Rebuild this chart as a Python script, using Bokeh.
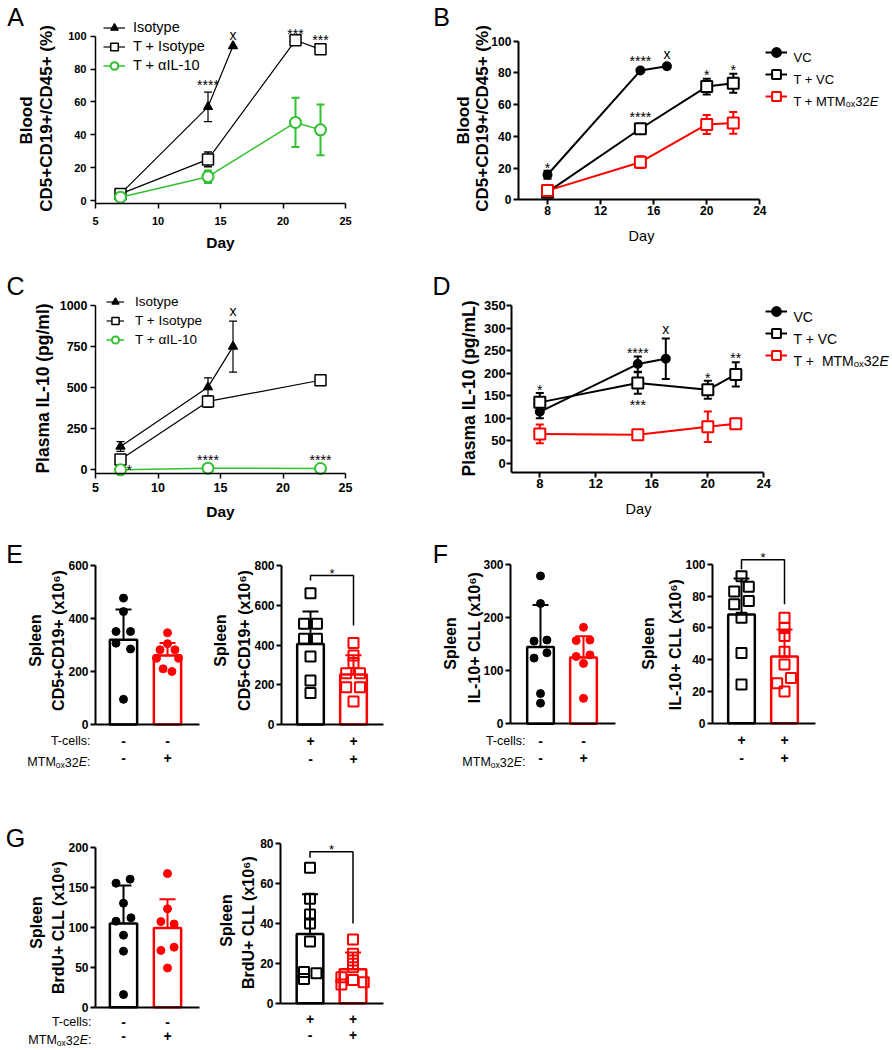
from bokeh.plotting import figure
from bokeh.models import (ColumnDataSource, Whisker, TeeHead, Label, LabelSet,
                          Legend, LegendItem, Range1d, FixedTicker)
from bokeh.layouts import row, column
from bokeh.embed import file_html
from bokeh.resources import INLINE
from bokeh.core.properties import value

FONT = "Liberation Sans"
BLACK = "#000000"
RED = "#ff0000"
GREEN = "#2fc12f"

# ---------------- Panel A : Blood CD5+CD19+/CD45+ (%) ----------------
a_iso_day = [7, 14, 16]
a_iso_mean = [4, 57, 94]
a_iso_err = [1.5, 9, 0]
a_tiso_day = [7, 14, 21, 23]
a_tiso_mean = [4, 25, 97.5, 92]
a_tiso_err = [1, 4.5, 0, 0]
a_ail_day = [7, 14, 21, 23]
a_ail_mean = [2, 14.5, 47.5, 43]
a_ail_err = [0, 3.8, 15, 15.5]
a_sig_day = [14, 16, 21, 23]
a_sig_y = [73, 101, 104, 100]
a_sig_text = ["****", "x", "***", "***"]
a_xticks = [5, 10, 15, 20, 25]
a_yticks = [0, 20, 40, 60, 80, 100]

# ---------------- Panel B ----------------
b_vc_day = [8, 15, 17]
b_vc_mean = [15.8, 81.5, 84.2]
b_vc_err = [2.5, 0, 0]
b_tvc_day = [8, 15, 20, 22]
b_tvc_mean = [4.8, 44.8, 71.4, 73.5]
b_tvc_err = [1, 1.6, 5, 6]
b_mtm_day = [8, 15, 20, 22]
b_mtm_mean = [5.8, 23.7, 47.5, 48.5]
b_mtm_err = [1, 3.7, 6, 6.8]
b_sig_day = [8, 15, 17, 15, 20, 22]
b_sig_y = [22.5, 90, 92, 54.5, 81, 84.5]
b_sig_text = ["*", "****", "x", "****", "*", "*"]
b_xticks = [8, 12, 16, 20, 24]
b_yticks = [0, 20, 40, 60, 80, 100]

# ---------------- Panel C : Plasma IL-10 ----------------
c_iso_day = [7, 14, 16]
c_iso_mean = [142, 503, 750]
c_iso_err = [30, 57, 155]
c_tiso_day = [7, 14, 23]
c_tiso_mean = [63, 416, 545]
c_tiso_err = [12, 35, 0]
c_ail_day = [7, 14, 23]
c_ail_mean = [0, 10, 8]
c_ail_err = [0, 0, 0]
c_sig_day = [16, 7.7, 14, 23]
c_sig_y = [965, 26, 81, 81]
c_sig_text = ["x", "*", "****", "****"]
c_xticks = [5, 10, 15, 20, 25]
c_yticks = [0, 250, 500, 750, 1000]

# ---------------- Panel D ----------------
d_vc_day = [8, 15, 17]
d_vc_mean = [114, 220, 232]
d_vc_err = [14, 17, 45]
d_tvc_day = [8, 15, 20, 22]
d_tvc_mean = [135, 178, 163, 197]
d_tvc_err = [21, 24, 20, 27]
d_mtm_day = [8, 15, 20, 22]
d_mtm_mean = [65, 63, 81, 87.5]
d_mtm_err = [21, 4, 34, 5]
d_sig_day = [8, 15, 15, 17, 20, 22]
d_sig_y = [172, 254, 137, 298, 198, 243]
d_sig_text = ["*", "****", "***", "x", "*", "**"]
d_xticks = [8, 12, 16, 20, 24]
d_yticks = [0, 50, 100, 150, 200, 250, 300, 350]

# ---------------- Bar panels ----------------
tcells_no = ["-", "-"]
tcells_yes = ["+", "+"]
mtm_flags = ["-", "+"]

e1_mean = [320, 260]
e1_sd = [114, 48]
e1_ctrl = [477, 426, 351, 351, 307, 285, 95]
e1_ctrl_dx = [0, 0, -0.17, 0.16, -0.17, 0.16, 0]
e1_trt = [346, 305, 282, 282, 250, 250, 210, 200]
e1_trt_dx = [0, 0, -0.17, 0.17, -0.25, 0.25, -0.1, 0.1]
e1_yticks = [0, 200, 400, 600]

e2_mean = [405, 252]
e2_sd = [163, 97]
e2_ctrl = [661, 507, 507, 431, 431, 342, 222, 158]
e2_ctrl_dx = [0, -0.15, 0.15, -0.15, 0.15, 0, 0, 0]
e2_trt = [410, 347, 309, 258, 258, 188, 188, 116]
e2_trt_dx = [0, 0, 0, -0.17, 0.15, -0.17, 0.15, 0]
e2_bracket = [725, 750, 750, 498]
e2_star = 778
e2_yticks = [0, 200, 400, 600, 800]

f1_mean = [145, 125]
f1_sd = [79, 40]
f1_ctrl = [279, 227, 158, 156, 134, 124, 57, 39]
f1_ctrl_dx = [0, 0, 0.15, -0.15, 0.15, -0.15, 0, 0]
f1_trt = [182, 157, 158, 130, 127, 114, 48]
f1_trt_dx = [0, -0.17, 0.15, 0.15, -0.17, 0, 0]
f1_yticks = [0, 100, 200, 300]

f2_mean = [68.5, 42]
f2_sd = [22.7, 17]
f2_ctrl = [92.6, 86, 83, 77, 75, 66.4, 44.3, 24.4]
f2_ctrl_dx = [0, 0.17, -0.17, 0.17, -0.17, 0, 0, 0]
f2_trt = [66.4, 60, 55, 45, 37, 28.5, 25.2, 20]
f2_trt_dx = [0, 0, 0, 0, 0, 0.15, -0.17, 0]
f2_bracket = [97, 103, 103, 75]
f2_star = 107
f2_yticks = [0, 20, 40, 60, 80, 100]

g1_mean = [104.5, 99]
g1_sd = [47.5, 36]
g1_ctrl = [155, 160, 130, 107.5, 111.7, 90, 70, 15.8]
g1_ctrl_dx = [-0.17, 0.15, 0, -0.17, 0.17, 0, 0, 0]
g1_trt = [167, 123, 107, 104, 71, 75, 49]
g1_trt_dx = [0, 0, -0.15, 0.15, -0.15, 0.15, 0]
g1_yticks = [0, 50, 100, 150, 200]

g2_mean = [34.7, 17]
g2_sd = [20, 8.5]
g2_ctrl = [68, 52.4, 44.5, 40, 31, 15.6, 12.2, 15]
g2_ctrl_dx = [0, 0, 0, 0, 0, -0.14, -0.14, 0.15]
g2_trt = [32, 24.8, 21.4, 18, 13, 9.4, 11.7, 10.5]
g2_trt_dx = [0, 0, 0, 0, -0.27, -0.27, 0, 0.25]
g2_bracket = [73, 76, 76, 40]
g2_star = 79
g2_yticks = [0, 20, 40, 60, 80]

# ---------------- helpers ----------------
AW = {" ": 278, "+": 584, "-": 333, ":": 278, "M": 833, "T": 611, "o": 556,
      "x": 500, "E": 667, "V": 667, "C": 722}


def tw(s, size):
    return sum(AW.get(c, 556) for c in s) * size / 1000.0


def new_panel(cell, xmap, ymap):
    """cell = (left, top, width, height) on the page; xmap/ymap = (data a, pixel a, data b, pixel b)."""
    x0, y0, w, h = cell
    xa, Xa, xb, Xb = xmap
    ya, Ya, yb, Yb = ymap
    kx = (xb - xa) / (Xb - Xa)
    ky = (yb - ya) / (Ya - Yb)
    p = figure(width=w, height=h,
               x_range=Range1d(xa + (x0 - Xa) * kx, xa + (x0 + w - Xa) * kx),
               y_range=Range1d(ya + (Ya - (y0 + h)) * ky, ya + (Ya - y0) * ky),
               output_backend="svg", toolbar_location=None,
               min_border=0, min_border_left=0, min_border_right=0,
               min_border_top=0, min_border_bottom=0)
    p.title.visible = False
    p.outline_line_color = None
    p.grid.visible = False

    def at(X, Y):
        return xa + (X - Xa) * kx, ya + (Ya - Y) * ky

    def loc(X, Y):  # legend position: from the canvas bottom-left
        return X - x0, (y0 + h) - Y
    return p, at, loc


def style_axes(p, xticks, yticks, xline, yline, xb, yb, size, lw, tick_out=5, xs=3, ys=3):
    for ax in (p.xaxis[0], p.yaxis[0]):
        ax.axis_line_color = BLACK
        ax.axis_line_width = lw
        ax.major_tick_line_color = BLACK
        ax.major_tick_line_width = lw
        ax.major_tick_out = tick_out
        ax.major_tick_in = 0
        ax.minor_tick_line_color = None
        ax.major_label_text_font = FONT
        ax.major_label_text_font_size = size
        ax.major_label_text_font_style = "bold"
        ax.major_label_text_color = BLACK
    p.xaxis[0].major_label_standoff = xs
    p.yaxis[0].major_label_standoff = ys
    p.xaxis[0].ticker = FixedTicker(ticks=xticks, minor_ticks=[])
    p.yaxis[0].ticker = FixedTicker(ticks=yticks, minor_ticks=[])
    p.yaxis[0].fixed_location = xline
    p.xaxis[0].fixed_location = yline
    p.xaxis[0].bounds = xb
    p.yaxis[0].bounds = yb


def put_text(p, at, X, Y, text, size, style="normal", angle=0.0, align="center",
             baseline="middle"):
    x, y = at(X, Y)
    p.add_layout(Label(x=x, y=y, text=text, text_font=FONT, text_font_size=f"{size}px",
                       text_font_style=style, text_color=BLACK, angle=angle,
                       text_align=align, text_baseline=baseline))


def put_pieces(p, at, X, Y, size, pieces, align="left"):
    # pieces: (text, size factor, style, drop as fraction of size); style "gap" = blank advance
    total = sum(tw(t, size * f) for t, f, _, _ in pieces)
    x = X - total if align == "right" else X
    for t, f, st, drop in pieces:
        s = size * f
        if st != "gap":
            put_text(p, at, x, Y + 0.36 * size + drop * size, t, round(s, 1), style=st,
                     align="left", baseline="alphabetic")
        x += tw(t, s)


MTM_TAIL = [("ox", 0.68, "normal", 0.22), ("32", 1.0, "normal", 0.0), ("E", 1.0, "italic", 0.0)]


def series(p, x, y, err, color, marker, size, fill, lw, mlw, cap=8):
    src = ColumnDataSource(dict(x=x, y=y))
    ln = p.line("x", "y", source=src, line_color=color, line_width=lw)
    sc = p.scatter("x", "y", source=src, marker=marker, size=size, line_color=color,
                   fill_color=fill, line_width=mlw)
    b = [xi for xi, e in zip(x, err) if e > 0]
    if b:
        up = [yi + e for yi, e in zip(y, err) if e > 0]
        lo = [yi - e for yi, e in zip(y, err) if e > 0]
        wsrc = ColumnDataSource(dict(b=b, u=up, l=lo))
        p.add_layout(Whisker(source=wsrc, base="b", upper="u", lower="l", line_color=color,
                             line_width=mlw, level="underlay",
                             upper_head=TeeHead(size=cap, line_color=color, line_width=mlw),
                             lower_head=TeeHead(size=cap, line_color=color, line_width=mlw)))
    return [ln, sc]


def sig(p, xs, ys, texts, size="14px"):
    dy = [-4 if "*" in t else 0 for t in texts]
    src = ColumnDataSource(dict(x=xs, y=ys, t=texts, dy=dy))
    p.add_layout(LabelSet(x="x", y="y", text="t", y_offset="dy", source=src,
                          text_font=value(FONT), text_font_size=value(size),
                          text_align="center", text_baseline="middle", text_color=BLACK))


def add_legend(p, items, location, size, gw, gh, standoff):
    lg = Legend(items=[LegendItem(label=l, renderers=r) for l, r in items],
                location=location, label_text_font=FONT, label_text_font_size=size,
                label_text_color=BLACK, glyph_width=gw, glyph_height=gh, label_height=gh,
                spacing=0, padding=0, margin=0, label_standoff=standoff,
                border_line_color=None, background_fill_alpha=0)
    p.add_layout(lg)


def bars(p, means, sds, ctrl, ctrl_dx, trt, trt_dx, open_markers):
    src = ColumnDataSource(dict(x=[0, 1], top=means, c=[BLACK, RED]))
    p.vbar(x="x", top="top", bottom=0, width=0.62, source=src, fill_color="white",
           line_color="c", line_width=2.5)
    for i, (vals, dx, col) in enumerate([(ctrl, ctrl_dx, BLACK), (trt, trt_dx, RED)]):
        xs = [i + d for d in dx]
        if open_markers:
            p.scatter(xs, vals, marker="square", size=10, fill_color=None, line_color=col,
                      line_width=2)
        else:
            p.scatter(xs, vals, marker="circle", size=8, fill_color=col, line_color=col)
        wsrc = ColumnDataSource(dict(b=[i], u=[means[i] + sds[i]], l=[means[i] - sds[i]]))
        p.add_layout(Whisker(source=wsrc, base="b", upper="u", lower="l", line_color=col,
                             line_width=2,
                             upper_head=TeeHead(size=16, line_color=col, line_width=2),
                             lower_head=TeeHead(size=16, line_color=col, line_width=2)))


def bracket(p, ys, star_y):
    p.line([0, 0, 1, 1], ys, line_color=BLACK, line_width=1.5)
    sig(p, [0.5], [star_y], ["*"], "13px")


def flags(p, at, top_row, bottom_row, y1, y2):
    s1 = at(0, y1)[1]
    s2 = at(0, y2)[1]
    src = ColumnDataSource(dict(x=[0, 1, 0, 1], y=[s1, s1, s2, s2], t=top_row + bottom_row))
    p.add_layout(LabelSet(x="x", y="y", text="t", source=src,
                          text_font=value(FONT), text_font_size=value("14px"),
                          text_font_style="bold", text_align="center",
                          text_baseline="middle", text_color=BLACK))


def row_titles(p, at, Xr, y1, y2):
    put_text(p, at, Xr, y1, "T-cells:", 12.5, align="right")
    put_pieces(p, at, Xr, y2, 12.5, [("MTM", 1.0, "normal", 0.0)] + MTM_TAIL +
               [(":", 1.0, "normal", 0.0)], align="right")


def bar_axes(p, at, yticks, Xy, Xend, ytop):
    xl = at(Xy, 0)[0]
    style_axes(p, [], yticks, xl, 0, (xl, at(Xend, 0)[0]), (0, ytop), "12px", 2, 5, 3, 2)


PI2 = 1.5707963

# ---------------- Panel A ----------------
pA, atA, locA = new_panel((0, 0, 430, 262), (5, 95, 25, 345), (0, 200, 100, 35.7))
style_axes(pA, a_xticks, a_yticks, 5, -2, (5, 25), (-2, 100), "11px", 1.5, 5, 8, 4)
rA1 = series(pA, a_iso_day, a_iso_mean, a_iso_err, BLACK, "triangle", 9, BLACK, 1.2, 1.2)
rA2 = series(pA, a_tiso_day, a_tiso_mean, a_tiso_err, BLACK, "square", 11, "white", 1.2, 1.5)
rA3 = series(pA, a_ail_day, a_ail_mean, a_ail_err, GREEN, "circle", 11, "white", 1.5, 2)
sig(pA, a_sig_day, a_sig_y, a_sig_text)
add_legend(pA, [("Isotype", rA1), ("T + Isotype", rA2), ("T + αIL-10", rA3)],
           locA(103, 74.5), "14.5px", 22, 19, 8)
put_text(pA, atA, 15, 16, "A", 25)
put_text(pA, atA, 26, 120, "Blood", 17, "bold", PI2)
put_text(pA, atA, 46, 118, "CD5+CD19+/CD45+ (%)", 17, "bold", PI2)
put_text(pA, atA, 220, 242, "Day", 15.5, "bold")

# ---------------- Panel B ----------------
pB, atB, locB = new_panel((430, 0, 462, 262), (8, 547, 24, 759.3), (0, 199.3, 100, 40.7))
style_axes(pB, b_xticks, b_yticks, 5.8, 0, (5.8, 24), (0, 100), "12px", 2, 5, 1, 2)
rB1 = series(pB, b_vc_day, b_vc_mean, b_vc_err, BLACK, "circle", 8, BLACK, 2, 2)
rB2 = series(pB, b_tvc_day, b_tvc_mean, b_tvc_err, BLACK, "square", 11, "white", 2, 2)
rB3 = series(pB, b_mtm_day, b_mtm_mean, b_mtm_err, RED, "square", 11, "white", 2, 2)
sig(pB, b_sig_day, b_sig_y, b_sig_text)
add_legend(pB, [(" ", rB1), (" ", rB2), (" ", rB3)], locB(765, 107), "12.5px", 22, 22, 6)
put_pieces(pB, atB, 793, 52, 13, [("VC", 1.0, "normal", 0.0)])
put_pieces(pB, atB, 793, 74, 13, [("T + VC", 1.0, "normal", 0.0)])
put_pieces(pB, atB, 793, 96, 13, [("T + MTM", 1.0, "normal", 0.0)] + MTM_TAIL)
put_text(pB, atB, 441, 16, "B", 25)
put_text(pB, atB, 463, 120, "Blood", 17, "bold", PI2)
put_text(pB, atB, 481.6, 118, "CD5+CD19+/CD45+ (%)", 17, "bold", PI2)
put_text(pB, atB, 641, 235, "Day", 14.5)

# ---------------- Panel C ----------------
pC, atC, locC = new_panel((0, 262, 430, 268), (5, 95, 25, 345), (0, 469.3, 1000, 305))
style_axes(pC, c_xticks, c_yticks, 5, -20, (5, 25), (-20, 1000), "12.5px", 1.5, 5, 5, 3)
rC1 = series(pC, c_iso_day, c_iso_mean, c_iso_err, BLACK, "triangle", 9, BLACK, 1.2, 1.2)
rC2 = series(pC, c_tiso_day, c_tiso_mean, c_tiso_err, BLACK, "square", 11, "white", 1.2, 1.5)
rC3 = series(pC, c_ail_day, c_ail_mean, c_ail_err, GREEN, "circle", 11, "white", 1.5, 2)
sig(pC, c_sig_day, c_sig_y, c_sig_text)
add_legend(pC, [("Isotype", rC1), ("T + Isotype", rC2), ("T + αIL-10", rC3)],
           locC(106, 348.5), "13.5px", 18, 19, 11)
put_text(pC, atC, 15, 285, "C", 25)
put_text(pC, atC, 42.5, 388, "Plasma IL-10 (pg/ml)", 17.5, "bold", PI2)
put_text(pC, atC, 220, 511, "Day", 15.5, "bold")

# ---------------- Panel D ----------------
pD, atD, locD = new_panel((430, 262, 462, 268), (8, 539.3, 24, 763.3), (0, 462.7, 350, 305))
style_axes(pD, d_xticks, d_yticks, 6, -20, (6, 24), (-20, 350), "13px", 2, 5, 2, 1)
rD1 = series(pD, d_vc_day, d_vc_mean, d_vc_err, BLACK, "circle", 8, BLACK, 2, 2)
rD2 = series(pD, d_tvc_day, d_tvc_mean, d_tvc_err, BLACK, "square", 11, "white", 2, 2)
rD3 = series(pD, d_mtm_day, d_mtm_mean, d_mtm_err, RED, "square", 11, "white", 2, 2)
sig(pD, d_sig_day, d_sig_y, d_sig_text)
add_legend(pD, [(" ", rD1), (" ", rD2), (" ", rD3)], locD(765, 366), "14px", 22, 22, 6)
put_pieces(pD, atD, 793, 311, 14, [("VC", 1.0, "normal", 0.0)])
put_pieces(pD, atD, 793, 333, 14, [("T + VC", 1.0, "normal", 0.0)])
put_pieces(pD, atD, 793, 355, 14, [("T +", 1.0, "normal", 0.0), ("  ", 1.0, "gap", 0.0),
                                   ("MTM", 1.0, "normal", 0.0)] + MTM_TAIL)
put_text(pD, atD, 441, 285, "D", 25)
put_text(pD, atD, 468.5, 388, "Plasma IL-10 (pg/mL)", 17.5, "bold", PI2)
put_text(pD, atD, 638, 508, "Day", 14.5)

# ---------------- Panel E ----------------
pE1, atE1, _ = new_panel((0, 530, 206, 248), (0, 123, 1, 167), (0, 724, 600, 565))
bar_axes(pE1, atE1, e1_yticks, 95, 199, 600)
bars(pE1, e1_mean, e1_sd, e1_ctrl, e1_ctrl_dx, e1_trt, e1_trt_dx, False)
flags(pE1, atE1, tcells_no, mtm_flags, 740, 757)
row_titles(pE1, atE1, 90, 740, 757)
put_text(pE1, atE1, 14, 553, "E", 25)
put_text(pE1, atE1, 35, 640, "Spleen", 16, "bold", PI2)
put_text(pE1, atE1, 57.5, 640, "CD5+CD19+ (x10⁶)", 16, "bold", PI2)

pE2, atE2, _ = new_panel((206, 530, 222, 248), (0, 310, 1, 353), (0, 724, 800, 565))
bar_axes(pE2, atE2, e2_yticks, 281, 383, 800)
bars(pE2, e2_mean, e2_sd, e2_ctrl, e2_ctrl_dx, e2_trt, e2_trt_dx, True)
bracket(pE2, e2_bracket, e2_star)
flags(pE2, atE2, tcells_yes, mtm_flags, 740, 758)
put_text(pE2, atE2, 220, 640, "Spleen", 16, "bold", PI2)
put_text(pE2, atE2, 244, 640, "CD5+CD19+ (x10⁶)", 16, "bold", PI2)

# ---------------- Panel F ----------------
pF1, atF1, _ = new_panel((428, 530, 208, 248), (0, 540, 1, 583), (0, 723.3, 300, 564.3))
bar_axes(pF1, atF1, f1_yticks, 510, 615, 300)
bars(pF1, f1_mean, f1_sd, f1_ctrl, f1_ctrl_dx, f1_trt, f1_trt_dx, False)
flags(pF1, atF1, tcells_no, mtm_flags, 740, 757)
row_titles(pF1, atF1, 525, 740, 757)
put_text(pF1, atF1, 440, 553, "F", 25)
put_text(pF1, atF1, 450, 643, "Spleen", 16, "bold", PI2)
put_text(pF1, atF1, 474, 637, "IL-10+ CLL (x10⁶)", 16, "bold", PI2)

pF2, atF2, _ = new_panel((636, 530, 256, 248), (0, 741, 1, 784), (0, 722.7, 100, 564))
bar_axes(pF2, atF2, f2_yticks, 712, 815, 100)
bars(pF2, f2_mean, f2_sd, f2_ctrl, f2_ctrl_dx, f2_trt, f2_trt_dx, True)
bracket(pF2, f2_bracket, f2_star)
flags(pF2, atF2, tcells_yes, mtm_flags, 739, 757)
put_text(pF2, atF2, 648, 643, "Spleen", 16, "bold", PI2)
put_text(pF2, atF2, 674.5, 644, "IL-10+ CLL (x10⁶)", 16, "bold", PI2)

# ---------------- Panel G ----------------
pG1, atG1, _ = new_panel((0, 778, 210, 271), (0, 123, 1, 167), (0, 1006.7, 200, 846.7))
bar_axes(pG1, atG1, g1_yticks, 95, 199, 200)
bars(pG1, g1_mean, g1_sd, g1_ctrl, g1_ctrl_dx, g1_trt, g1_trt_dx, False)
flags(pG1, atG1, tcells_no, mtm_flags, 1021, 1035)
row_titles(pG1, atG1, 91, 1021, 1035)
put_text(pG1, atG1, 15, 837, "G", 25)
put_text(pG1, atG1, 36, 922, "Spleen", 16, "bold", PI2)
put_text(pG1, atG1, 57.5, 927, "BrdU+ CLL (x10⁶)", 16, "bold", PI2)

pG2, atG2, _ = new_panel((210, 778, 230, 271), (0, 309.5, 1, 352.5), (0, 1002.7, 80, 843.3))
bar_axes(pG2, atG2, g2_yticks, 280, 383, 80)
bars(pG2, g2_mean, g2_sd, g2_ctrl, g2_ctrl_dx, g2_trt, g2_trt_dx, True)
bracket(pG2, g2_bracket, g2_star)
flags(pG2, atG2, tcells_yes, mtm_flags, 1018, 1034)
put_text(pG2, atG2, 226, 920, "Spleen", 16, "bold", PI2)
put_text(pG2, atG2, 248, 922, "BrdU+ CLL (x10⁶)", 16, "bold", PI2)

layout = column(row(pA, pB), row(pC, pD), row(pE1, pE2, pF1, pF2), row(pG1, pG2))
open("out.html", "w").write(file_html(layout, INLINE, title="Figure"))
